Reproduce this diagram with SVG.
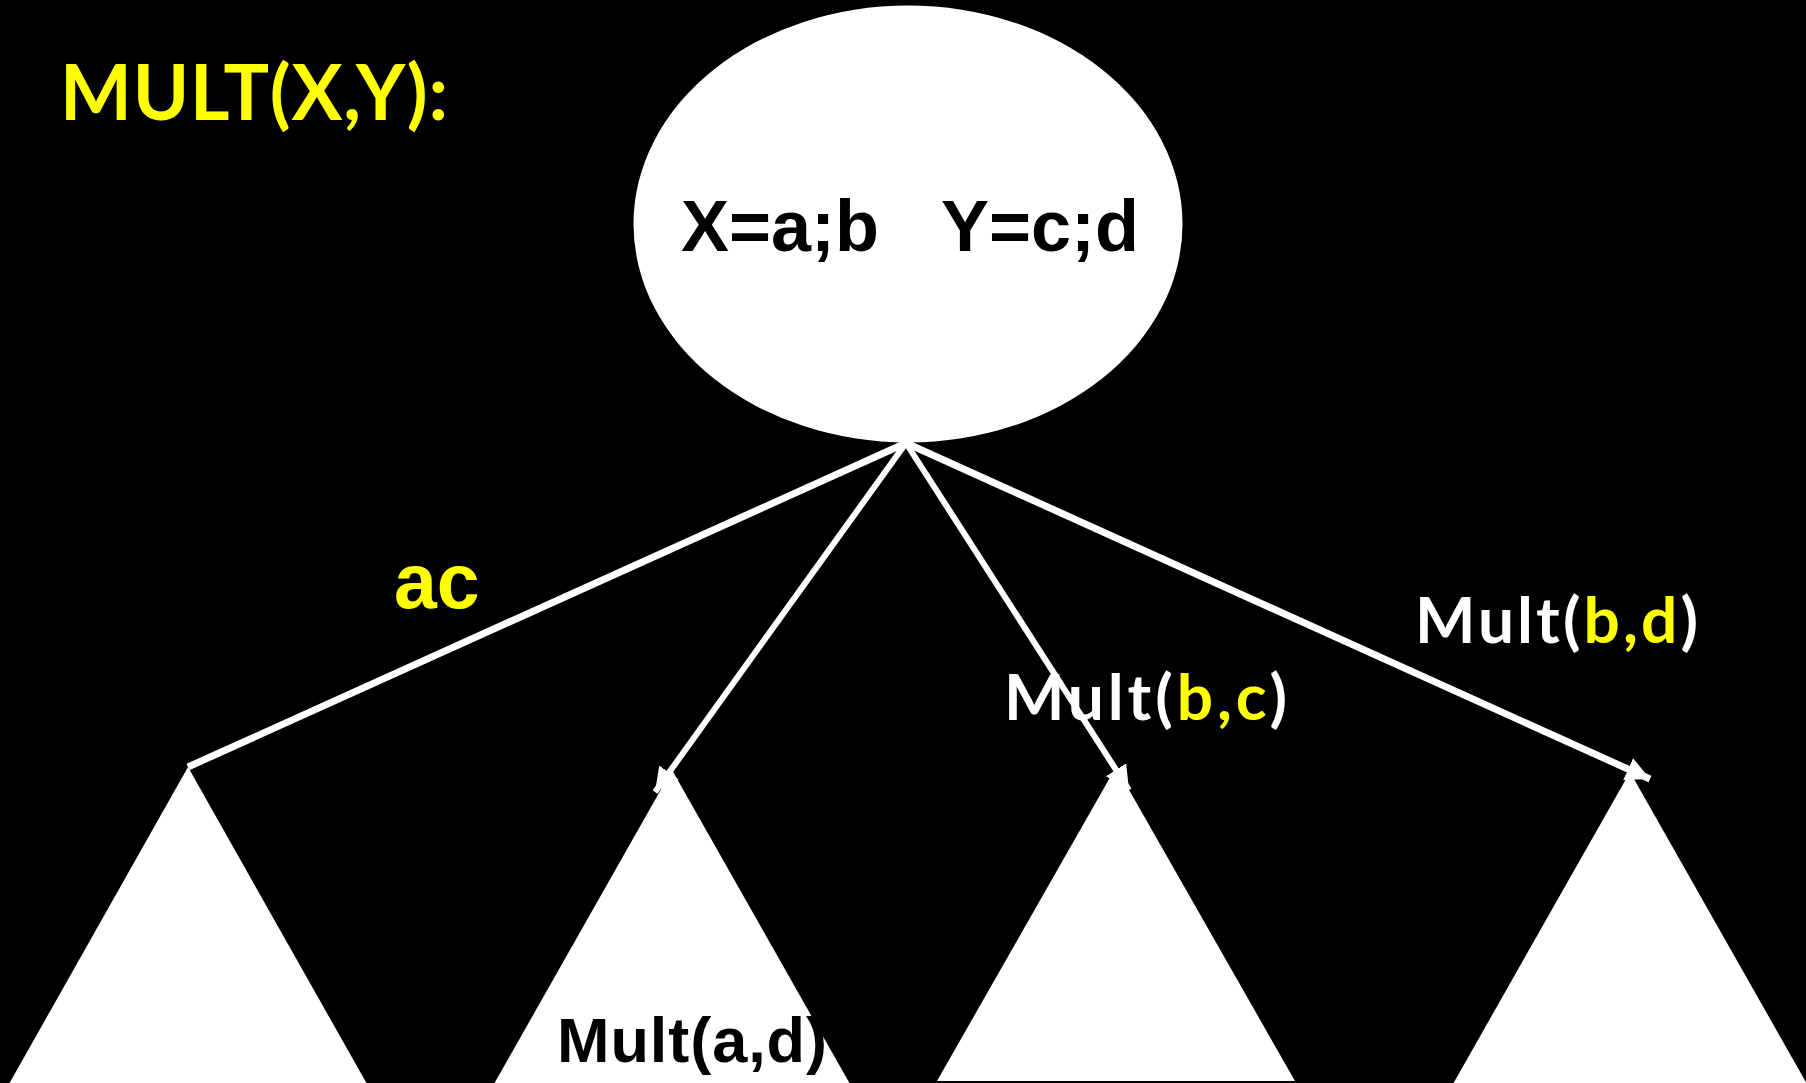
<svg xmlns="http://www.w3.org/2000/svg" width="1806" height="1083" viewBox="0 0 1806 1083">
  <style>
    .arial { font-family: "Liberation Sans", Arial, sans-serif; font-weight: bold; }
    .calibri { font-family: Lato, "Open Sans", sans-serif; font-weight: bold; }
    .yellow { fill: #FFFF00; }
    .white { fill: #FFFFFF; }
    .black { fill: #000000; }
    .edge { stroke: #FFFFFF; stroke-width: 6; fill: none; }
    .thick { stroke-width: 7; }
    .tri { fill: #FFFFFF; }
  </style>
  <defs>
    <marker id="arrow" markerUnits="userSpaceOnUse" markerWidth="24" markerHeight="24" refX="24" refY="12" orient="auto">
      <path d="M0,0 L24,12 L0,24 z" fill="#FFFFFF"/>
    </marker>
  </defs>
  <rect x="0" y="0" width="1806" height="1083" fill="#000000"/>

  <text id="title" class="calibri yellow" x="60" y="120" font-size="76" textLength="388">MULT(X,Y):</text>

  <g id="root">
    <ellipse cx="908" cy="224" rx="274.5" ry="218.5" fill="#FFFFFF"/>
    <text class="arial black" font-size="72" y="251"><tspan x="681">X=a;b</tspan><tspan x="941">Y=c;d</tspan></text>
  </g>

  <g id="tri1"><polygon class="tri" points="188,767 9,1084 367,1084"/></g>
  <g id="tri2"><polygon class="tri" points="672,770 494,1084 850,1084"/></g>
  <g id="tri3"><polygon class="tri" points="1116,767 937,1081 1295,1081"/></g>
  <g id="tri4"><polygon class="tri" points="1630,772 1453,1084 1807,1084"/></g>

  <g id="connectors">
    <line class="edge thick" x1="906" y1="443" x2="188" y2="767"/>
    <line class="edge" x1="906" y1="443" x2="655" y2="792" marker-end="url(#arrow)"/>
    <line class="edge" x1="906" y1="443" x2="1129" y2="790" marker-end="url(#arrow)"/>
    <line class="edge thick" x1="906" y1="443" x2="1650" y2="779" marker-end="url(#arrow)"/>
  </g>

  <g id="labels">
    <text class="arial yellow" x="394" y="608" font-size="77">ac</text>
    <text class="arial black" x="557" y="1062" font-size="63" textLength="270">Mult(a,d)</text>
    <text class="calibri white" x="1004" y="720" font-size="64" textLength="283">Mult(<tspan class="yellow">b,c</tspan>)</text>
    <text class="calibri white" x="1415" y="643" font-size="64" textLength="283">Mult(<tspan class="yellow">b,d</tspan>)</text>
  </g>
</svg>
